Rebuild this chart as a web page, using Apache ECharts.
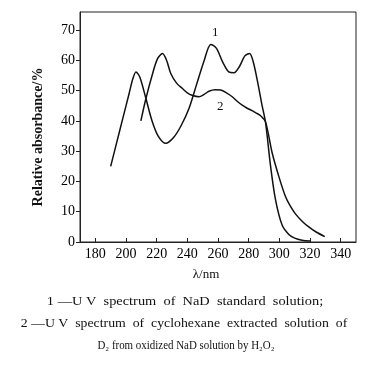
<!DOCTYPE html>
<html><head><meta charset="utf-8">
<script src="https://cdn.jsdelivr.net/npm/echarts@6/dist/echarts.min.js"></script>
<style>html,body{margin:0;padding:0;background:#fff}#c{width:368px;height:367px}</style>
</head><body><div id="c"></div>
<script>
// Curve 1: UV spectrum of NaD standard solution
const wl1  = [190, 194, 198, 202, 204.5, 206.5, 209, 213, 217, 221, 226, 231, 236, 241, 246, 251, 255.3, 259, 263, 267, 270.4, 274, 277.5, 280.6, 283, 285.6, 288.8, 291, 294.3, 297.5, 301.8, 306.2, 310, 314.8, 320];
const abs1 = [25, 33, 41, 49, 54, 56.2, 54.5, 47.4, 40, 35, 32.6, 34.5, 38.5, 44, 52, 60, 65.3, 64, 59.5, 56.2, 55.9, 58, 61.5, 62.3, 59.5, 53.5, 45, 39.5, 25, 14, 5.6, 2.5, 1.3, 0.6, 0.3];
// Curve 2: cyclohexane extracted solution of D2
const wl2  = [209.7, 213, 217, 220.5, 223.8, 226.5, 229.2, 233, 236.8, 240, 243, 247.6, 251, 254.1, 258, 261.8, 265.5, 269.3, 272.5, 275.8, 279, 282.3, 285, 287.8, 291, 295.3, 299.7, 304, 307, 310.5, 315, 319.2, 324, 329.6];
const abs2 = [40, 47.4, 55, 60.5, 62.3, 60, 55.7, 52.5, 50.7, 49.3, 48.5, 48, 48.8, 49.8, 50.3, 50.2, 49.3, 48, 46.5, 45.2, 44.2, 43.4, 42.6, 41.7, 39.7, 29.5, 21.6, 15, 12, 9.3, 6.8, 5, 3.3, 1.8];
const xTicks = [180, 200, 220, 240, 260, 280, 300, 320, 340];
const yTicks = [0, 10, 20, 30, 40, 50, 60, 70];
const captions = [
  '1 \u2014U V  spectrum  of  NaD  standard  solution;',
  '2 \u2014U V  spectrum  of  cyclohexane  extracted  solution  of',
  'D\u2082 from oxidized NaD solution by H\u2082O\u2082'
];

const toPairs = (xs, ys) => xs.map((x, i) => [x, ys[i]]);
const serif = '"Liberation Serif", "DejaVu Serif", serif';
const chart = echarts.init(document.getElementById('c'), null, {renderer: 'canvas'});
chart.setOption({
  animation: false,
  backgroundColor: '#fff',
  grid: {left: 80, right: 12, top: 12, bottom: 125, show: true, borderColor: '#222', borderWidth: 1},
  xAxis: {
    type: 'value', min: 170, max: 350,
    axisLine: {lineStyle: {color: '#222', width: 1}},
    axisTick: {inside: true, length: 4, customValues: xTicks, lineStyle: {color: '#222'}},
    axisLabel: {customValues: xTicks, color: '#000', fontFamily: serif, fontSize: 14, margin: 5},
    splitLine: {show: false}
  },
  yAxis: {
    type: 'value', min: 0, max: 76,
    axisLine: {show: true, lineStyle: {color: '#222', width: 1}},
    axisTick: {show: true, inside: false, length: 4, customValues: yTicks, lineStyle: {color: '#222'}},
    axisLabel: {customValues: yTicks, color: '#000', fontFamily: serif, fontSize: 14, margin: 5},
    splitLine: {show: false}
  },
  series: [
    {type: 'line', data: toPairs(wl1, abs1), smooth: 0.3, showSymbol: false, lineStyle: {color: '#111', width: 1.5}},
    {type: 'line', data: toPairs(wl2, abs2), smooth: 0.3, showSymbol: false, lineStyle: {color: '#111', width: 1.5}}
  ],
  graphic: [
    {type: 'text', left: 212, top: 26, style: {text: '1', font: '13px ' + serif, fill: '#111'}},
    {type: 'text', left: 217, top: 100, style: {text: '2', font: '13px ' + serif, fill: '#111'}},
    {type: 'text', x: 38, y: 137, rotation: Math.PI / 2, style: {text: 'Relative absorbance/%', font: 'bold 14px ' + serif, fill: '#111', align: 'center', verticalAlign: 'middle'}},
    {type: 'text', x: 206, y: 275, style: {text: '\u03bb/nm', font: '13px ' + serif, fill: '#111', align: 'center', verticalAlign: 'middle'}},
    {type: 'text', x: 185, y: 302, scaleX: 1.25, style: {text: captions[0], font: '11.5px ' + serif, fill: '#111', align: 'center', verticalAlign: 'middle'}},
    {type: 'text', x: 184, y: 324, scaleX: 1.2, style: {text: captions[1], font: '11.5px ' + serif, fill: '#111', align: 'center', verticalAlign: 'middle'}},
    {type: 'text', x: 186, y: 346, scaleX: 0.95, style: {text: captions[2], font: '11.5px ' + serif, fill: '#111', align: 'center', verticalAlign: 'middle'}}
  ]
});
</script>
</body></html>
